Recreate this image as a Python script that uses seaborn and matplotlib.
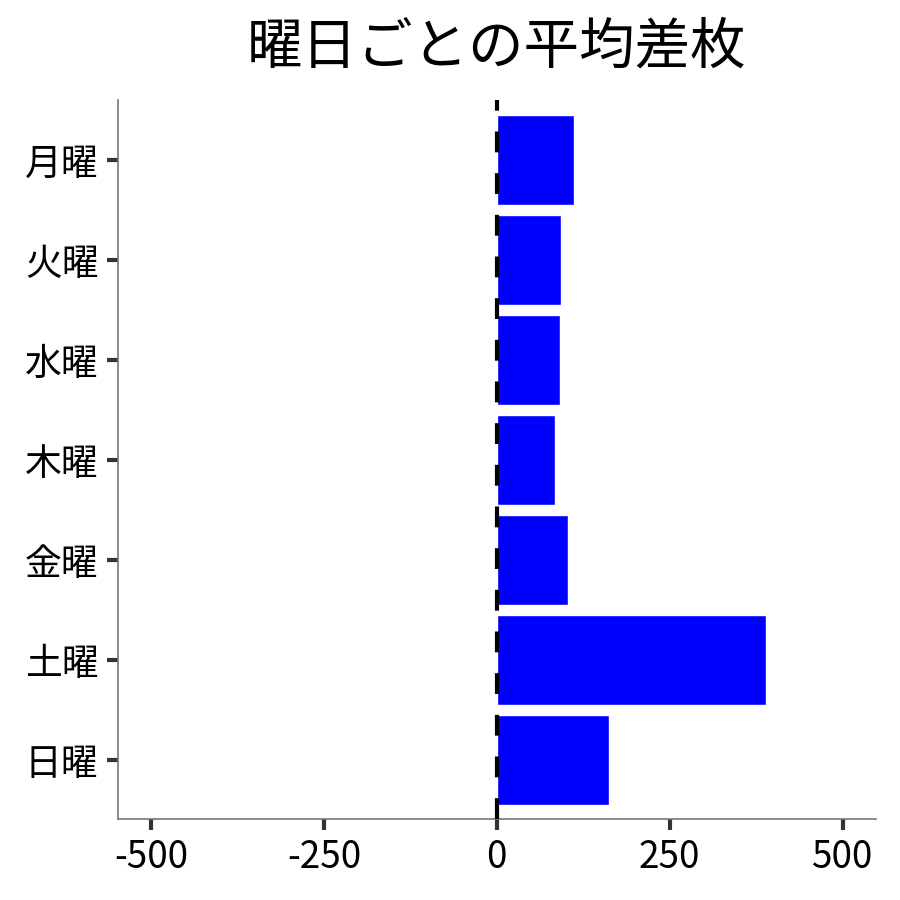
import pandas as pd
import matplotlib
matplotlib.use("Agg")
import matplotlib.pyplot as plt
import seaborn as sns

sns.set_style("white")
plt.rcParams['font.family'] = ['Noto Sans CJK JP', 'DejaVu Sans']
plt.rcParams['axes.unicode_minus'] = False

days = ['月曜', '火曜', '水曜', '木曜', '金曜', '土曜', '日曜']
avg_diff = [111, 93, 92, 84, 103, 389, 162]
xticks = [-500, -250, 0, 250, 500]

df = pd.DataFrame({'曜日': days, '平均差枚': avg_diff})

fig, ax = plt.subplots(figsize=(9, 9), dpi=100)
fig.subplots_adjust(left=0.131, right=0.973, top=0.889, bottom=0.09)

sns.barplot(data=df, y='曜日', x='平均差枚', order=days, color='#0000ff',
            saturation=1, width=0.9, orient='h', ax=ax, zorder=2)
# 0 の基準線
ax.axvline(0, color='black', lw=3, ls=(0, (5, 5)), zorder=3)

ax.set_xlim(-548, 548)
ax.set_ylim(6.59, -0.6)
ax.set_xticks(xticks)
ax.set_xticklabels([str(v) for v in xticks])
ax.set_xlabel('')
ax.set_ylabel('')
ax.set_title('曜日ごとの平均差枚', fontsize=40, pad=26, color='black')

sns.despine(ax=ax)
for side in ['left', 'bottom']:
    ax.spines[side].set_color('#777777')
    ax.spines[side].set_linewidth(1.2)
ax.tick_params(axis='x', bottom=True)
ax.tick_params(axis='y', left=True)
ax.tick_params(axis='both', which='major', length=8, width=3, color='#333333',
               labelsize=26.5, labelcolor='black', pad=6, direction='out')

plt.savefig('out.png', dpi=100)
